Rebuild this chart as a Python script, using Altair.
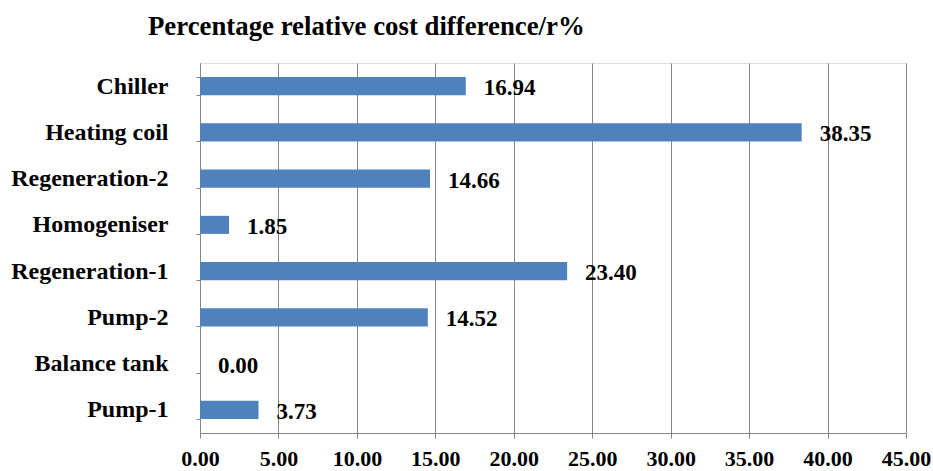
import altair as alt
import pandas as pd

# Components listed top to bottom, with their relative cost difference (%)
components = ["Chiller", "Heating coil", "Regeneration-2", "Homogeniser",
              "Regeneration-1", "Pump-2", "Balance tank", "Pump-1"]
values = [16.94, 38.35, 14.66, 1.85, 23.40, 14.52, 0.00, 3.73]
x_ticks = [0, 5, 10, 15, 20, 25, 30, 35, 40, 45]

df = pd.DataFrame({"component": components, "value": values})

FONT = "Liberation Serif"
GRID = "#868686"
BAR = "#4F81BD"

y_enc = alt.Y(
    "component:N",
    sort=components,
    title=None,
    scale=alt.Scale(paddingInner=0.61, paddingOuter=0.305),
    axis=alt.Axis(
        tickBand="extent",
        tickSize=4,
        tickColor=GRID,
        domainColor=GRID,
        labelFont=FONT,
        labelFontSize=24,
        labelFontWeight="bold",
        labelColor="black",
        labelPadding=28,
        grid=False,
    ),
)

x_enc = alt.X(
    "value:Q",
    title=None,
    scale=alt.Scale(domain=[0, 45], nice=False),
    axis=alt.Axis(
        values=x_ticks,
        format=".2f",
        grid=True,
        gridColor=GRID,
        gridOpacity=1,
        tickSize=5,
        tickColor=GRID,
        domainColor=GRID,
        labelFont=FONT,
        labelFontSize=22,
        labelFontWeight="bold",
        labelColor="black",
        labelPadding=10,
        labelFlush=False,
    ),
)

bars = alt.Chart(df).mark_bar(color=BAR).encode(x=x_enc, y=y_enc)

labels = alt.Chart(df).mark_text(
    align="left", baseline="middle", dx=18, dy=2,
    font=FONT, fontSize=23, fontWeight="bold", color="black",
).encode(
    x="value:Q",
    y=alt.Y("component:N", sort=components),
    text=alt.Text("value:Q", format=".2f"),
)

chart = (
    alt.layer(bars, labels)
    .properties(
        width=706,
        height=370,
        autosize=alt.AutoSizeParams(type="none"),
        padding={"left": 200, "top": 63, "right": 27, "bottom": 38},
        title=alt.TitleParams(
            "Percentage relative cost difference/r%",
            anchor="start",
            frame="group",
            dx=-52,
            offset=-11,
            baseline="alphabetic",
            font=FONT,
            fontSize=26.8,
            fontWeight="bold",
            color="black",
        ),
    )
    .configure_view(stroke=None)
    .configure(background="white")
)

chart.save("out.html", embed_options={"renderer": "svg", "actions": False})
